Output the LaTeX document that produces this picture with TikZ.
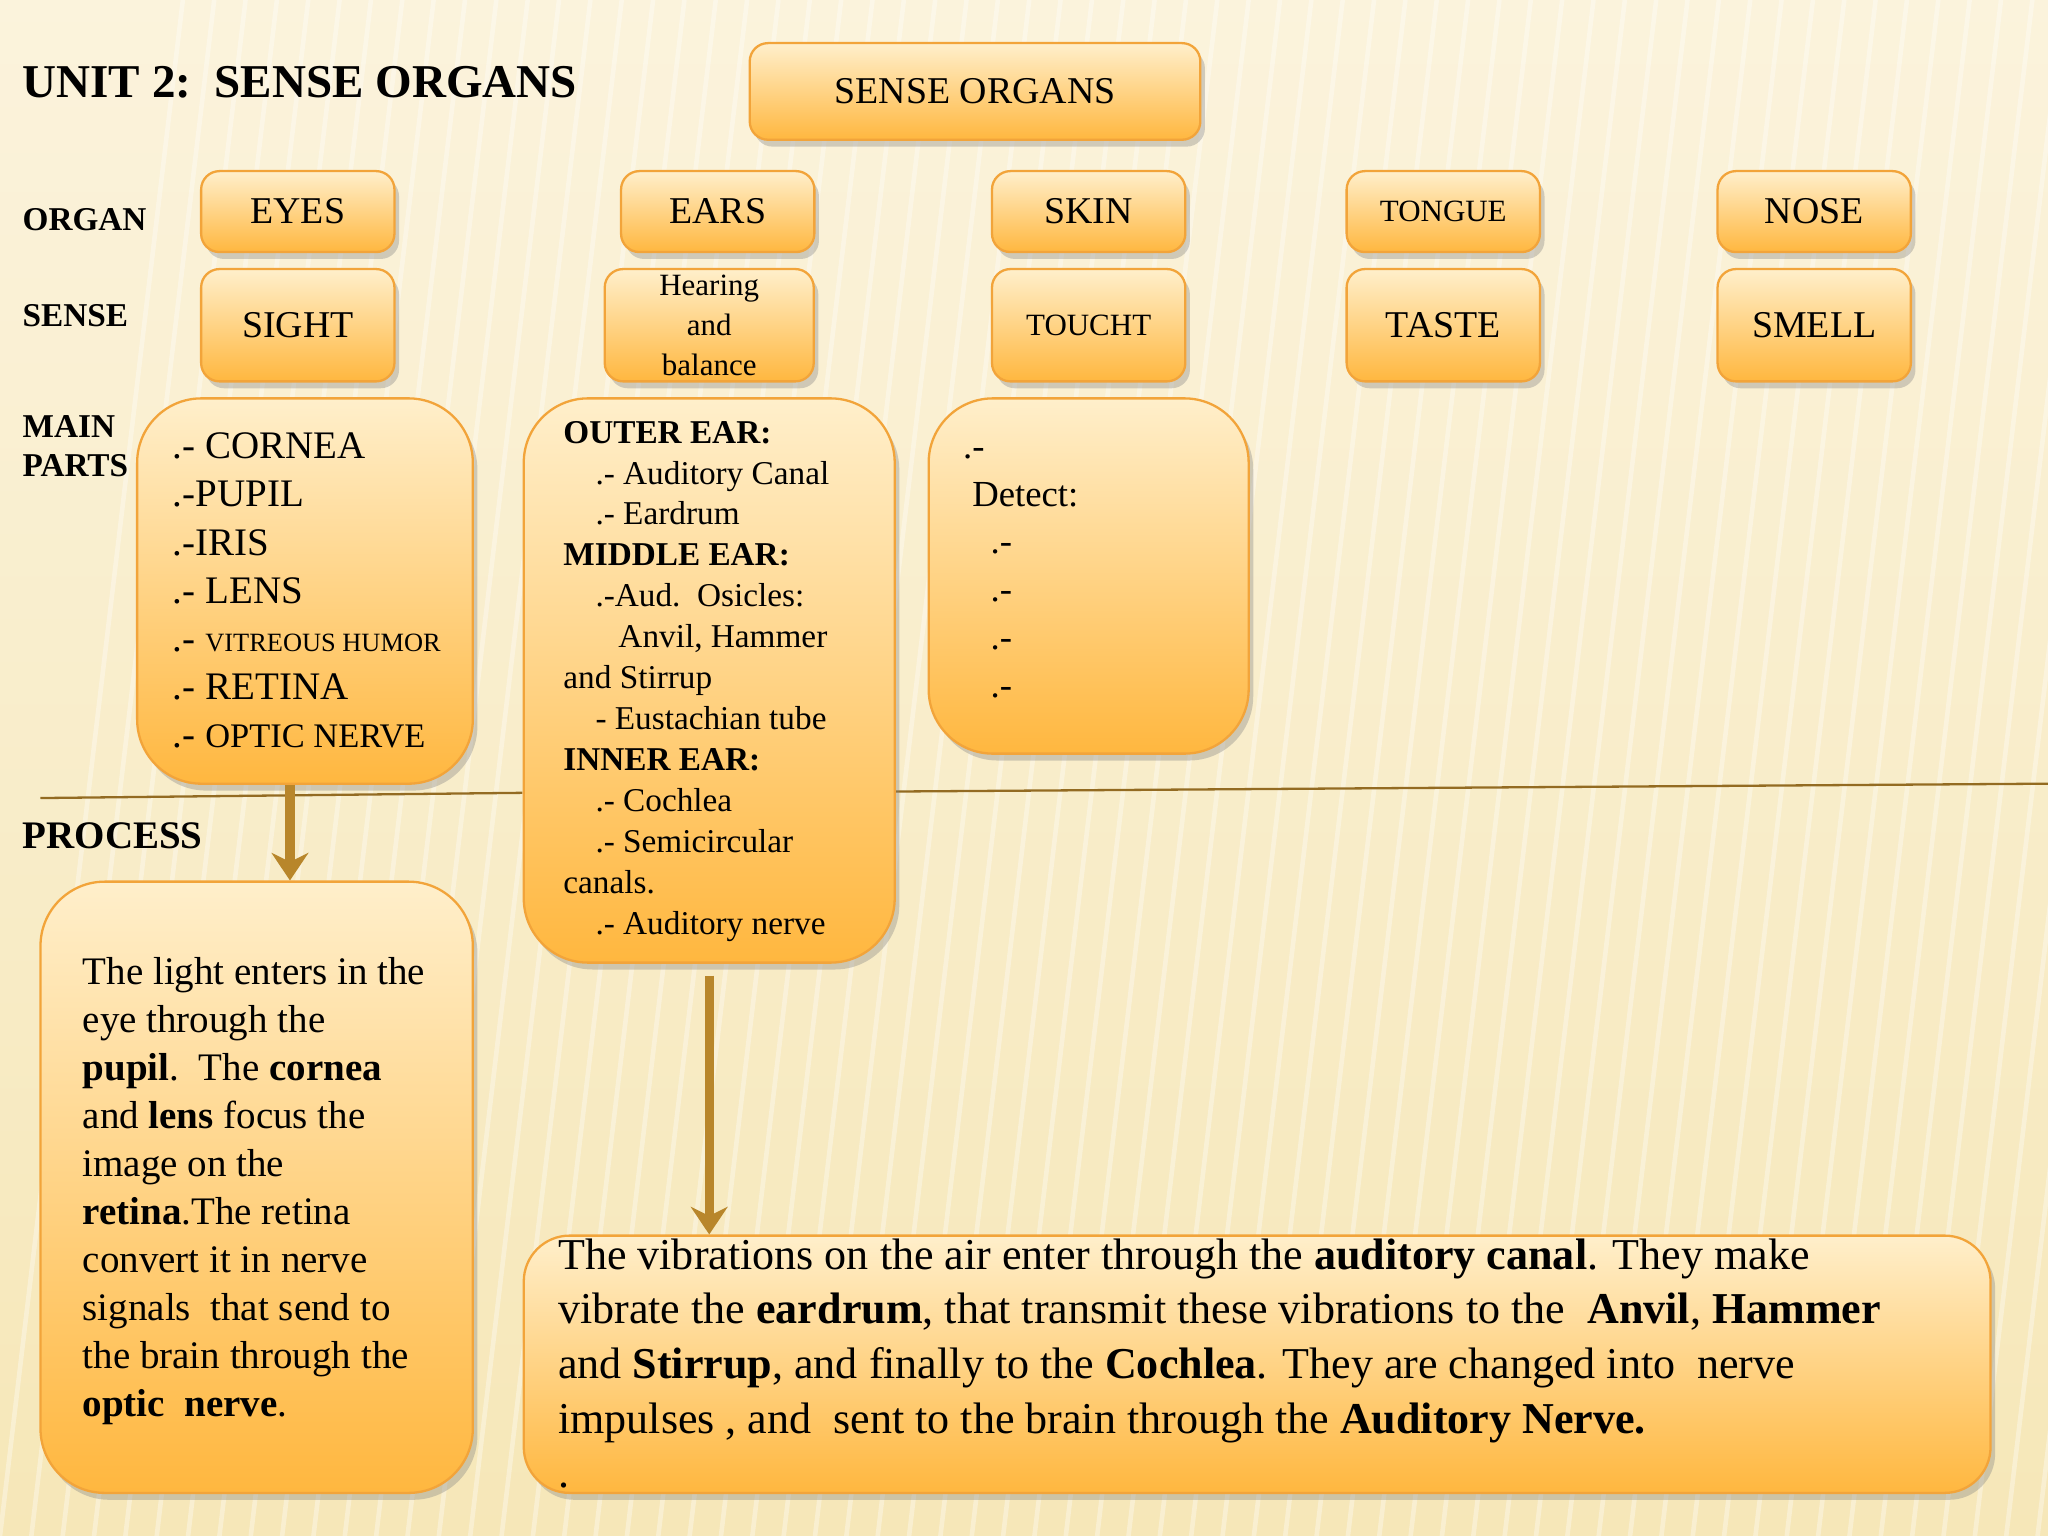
\documentclass[tikz,border=0pt]{standalone}
\usepackage{fontspec}
\setmainfont{Liberation Serif}
\usetikzlibrary{shadows,arrows.meta}
\definecolor{boxtop}{HTML}{FFEFCB}
\definecolor{boxbot}{HTML}{FFB73F}
\definecolor{boxline}{HTML}{F2A43A}
\definecolor{arr}{HTML}{B8862B}
\definecolor{bgtop}{HTML}{FBF3DC}
\definecolor{bgbot}{HTML}{F6E7B8}
\tikzset{
  box/.style={draw=boxline, line width=1pt, rounded corners=8pt, top color=boxtop, bottom color=boxbot, drop shadow={shadow xshift=2pt,shadow yshift=-3pt,opacity=0.35}, inner sep=0pt, align=center},
  bigbox/.style={box, rounded corners=28pt},
  lbl/.style={anchor=west, font=\bfseries\fontsize{14.5}{17}\selectfont, inner sep=0pt},
  txt/.style={anchor=north west, align=left, inner sep=0pt},
  arrow/.style={draw=arr, line width=4pt, -{Stealth[length=12pt,width=16pt]}}
}
\begin{document}
\begin{tikzpicture}[x=0.02cm,y=-0.02cm]
\useasboundingbox (0,0) rectangle (1568,1176);
\shade[top color=bgtop, bottom color=bgbot] (0,0) rectangle (1568,1176);
\foreach \i in {0,...,70}{\draw[white, line width=2pt, opacity=0.35] (\i*24,1176) -- (\i*24+140,0);}
% title
\node[lbl, font=\bfseries\fontsize{20.5}{22}\selectfont] (title) at (17,63) {UNIT 2:\ \ SENSE ORGANS};
\node[lbl] (lorgan) at (17,168) {ORGAN};
\node[lbl] (lsense) at (17,242) {SENSE};
\node[lbl, align=left, anchor=north west] (lparts) at (17,318) {MAIN\\PARTS};
\node[lbl, font=\bfseries\fontsize{17}{18}\selectfont] (lproc) at (17,640) {PROCESS};
% lines
\coordinate (l1) at (31,611); \coordinate (l2) at (400,607);
\coordinate (l3) at (686,606); \coordinate (l4) at (1568,600);
\draw[arr!80!black, line width=1pt] (l1) -- (l2);
\draw[arr!80!black, line width=1pt] (l3) -- (l4);
% top
\node[box, minimum width=345*0.02cm, minimum height=74*0.02cm, font=\fontsize{16.5}{18}\selectfont] (so) at (746.5,70) {SENSE ORGANS};
\tikzset{small/.style={box, minimum width=148*0.02cm, minimum height=62*0.02cm, font=\fontsize{16.5}{18}\selectfont},
 mid/.style={box, minimum width=148*0.02cm, minimum height=86*0.02cm, font=\fontsize{16.5}{18}\selectfont}}
\node[small] (eyes) at (228,162) {EYES};
\node[small] (ears) at (549.5,162) {EARS};
\node[small] (skin) at (833.5,162) {SKIN};
\node[small, font=\fontsize{13.5}{15}\selectfont] (tongue) at (1105,162) {TONGUE};
\node[small] (nose) at (1389,162) {NOSE};
\node[mid] (sight) at (228,249) {SIGHT};
\node[mid, minimum width=160*0.02cm, font=\fontsize{13.5}{17.5}\selectfont] (hear) at (543,249) {Hearing\\and\\balance};
\node[mid, font=\fontsize{13.5}{15}\selectfont] (touch) at (833.5,249) {TOUCHT};
\node[mid] (taste) at (1105,249) {TASTE};
\node[mid] (smell) at (1389,249) {SMELL};
% parts boxes
\node[bigbox, minimum width=257*0.02cm, minimum height=295*0.02cm] (eyep) at (233.5,452.5) {};
\node[txt, font=\fontsize{17}{21}\selectfont] (eyept) at (132,331) {.- CORNEA\\.-PUPIL\\.-IRIS\\.- LENS\\.- {\fontsize{11.5}{21}\selectfont VITREOUS HUMOR}\\.- RETINA\\.- {\fontsize{15}{21}\selectfont OPTIC NERVE}};
\node[bigbox, minimum width=284*0.02cm, minimum height=432*0.02cm] (earp) at (543,521) {};
\node[txt, font=\fontsize{14.5}{17.85}\selectfont] (earpt) at (431,322) {\textbf{OUTER EAR:}\\\hspace{14pt}.- Auditory Canal\\\hspace{14pt}.- Eardrum\\\textbf{MIDDLE EAR:}\\\hspace{14pt}.-Aud.\ \ Osicles:\\\hspace{24pt}Anvil, Hammer\\and Stirrup\\\hspace{14pt}- Eustachian tube\\\textbf{INNER EAR:}\\\hspace{14pt}.- Cochlea\\\hspace{14pt}.- Semicircular\\canals.\\\hspace{14pt}.- Auditory nerve};
\node[bigbox, minimum width=245*0.02cm, minimum height=272*0.02cm] (skinp) at (833.5,441) {};
\node[txt, font=\fontsize{16}{20.8}\selectfont] (skinpt) at (737,343) {.-\\\ Detect:\\\hspace{12pt}.-\\\hspace{12pt}.-\\\hspace{12pt}.-\\\hspace{12pt}.-};
% process boxes
\node[bigbox, minimum width=331*0.02cm, minimum height=468*0.02cm] (eyeproc) at (196.5,909) {};
\node[txt, font=\fontsize{17}{20.9}\selectfont] (eyeproct) at (63,733) {The light enters in the\\eye through the\\\textbf{pupil}.\ \ The \textbf{cornea}\\and \textbf{lens} focus the\\image on the\\\textbf{retina}.The retina\\convert it in nerve\\signals\ \ that send to\\the brain through the\\\textbf{optic\ \ nerve}.};
\node[bigbox, rounded corners=20pt, minimum width=1123*0.02cm, minimum height=197*0.02cm] (earproc) at (962.5,1044.5) {};
\node[txt, font=\fontsize{19.2}{23.8}\selectfont] (earproct) at (427,948) {The vibrations on the air enter through the \textbf{auditory canal}. They make\\vibrate the \textbf{eardrum}, that transmit these vibrations to the\ \ \textbf{Anvil}, \textbf{Hammer}\\and \textbf{Stirrup}, and finally to the \textbf{Cochlea}. They are changed into\ \ nerve\\impulses , and\ \ sent to the brain through the \textbf{Auditory Nerve.}\\.};
% arrows
\draw[arrow] (eyep.south -| 222,0) -- (eyeproc.north -| 222,0) ;
\draw[arrow] (543,747) -- (earproc.north -| 543,0);
\end{tikzpicture}
\end{document}
